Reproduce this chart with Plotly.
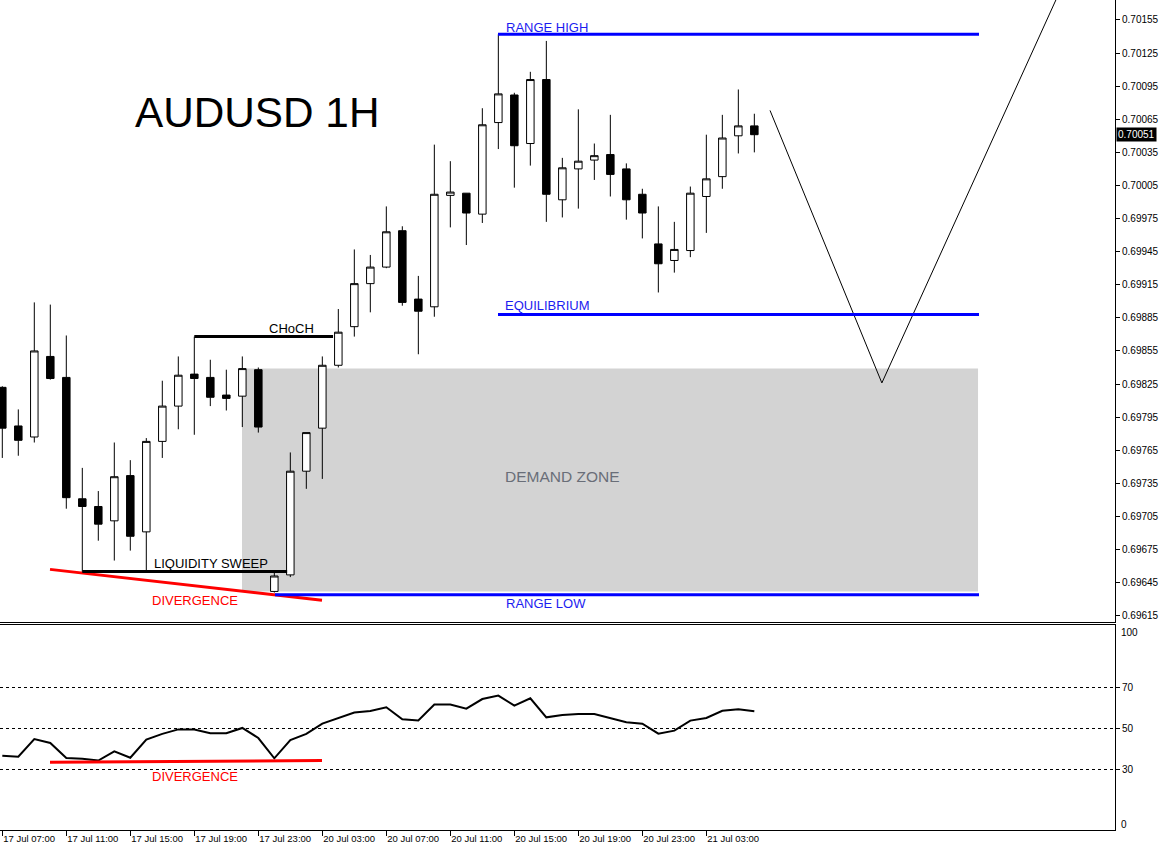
import plotly.graph_objects as go

# ---------------- data ----------------
times = (["17 Jul %02d:00" % h for h in range(7, 24)] +
         ["20 Jul %02d:00" % h for h in range(0, 24)] +
         ["21 Jul %02d:00" % h for h in range(0, 7)])

open_ = [0.69822, 0.69787, 0.69777, 0.69850, 0.69831, 0.69721, 0.69714, 0.69701, 0.69742, 0.69691,
         0.69773, 0.69805, 0.69834, 0.69831, 0.69815, 0.69814, 0.69838, 0.69637, 0.69652, 0.69746,
         0.69785, 0.69842, 0.69877, 0.69916, 0.69931, 0.69964, 0.69902, 0.69895, 0.69996, 0.69998,
         0.69979, 0.70062, 0.70087, 0.70043, 0.70101, 0.69992, 0.70020, 0.70028, 0.70033, 0.70020,
         0.69997, 0.69952, 0.69937, 0.69946, 0.69995, 0.70013, 0.70050, 0.70059]
high = [0.69823, 0.69802, 0.69899, 0.69897, 0.69869, 0.69749, 0.69728, 0.69772, 0.69756, 0.69776,
        0.69828, 0.69850, 0.69868, 0.69847, 0.69838, 0.69850, 0.69840, 0.69654, 0.69763, 0.69781,
        0.69850, 0.69893, 0.69947, 0.69942, 0.69986, 0.69968, 0.69923, 0.70042, 0.70027, 0.69998,
        0.70075, 0.70142, 0.70089, 0.70108, 0.70136, 0.70030, 0.70074, 0.70043, 0.70069, 0.70025,
        0.70002, 0.69986, 0.69972, 0.70004, 0.70051, 0.70069, 0.70092, 0.70070]
low = [0.69758, 0.69760, 0.69772, 0.69829, 0.69712, 0.69654, 0.69683, 0.69665, 0.69674, 0.69656,
       0.69758, 0.69784, 0.69779, 0.69805, 0.69801, 0.69786, 0.69781, 0.69636, 0.69650, 0.69730,
       0.69739, 0.69840, 0.69868, 0.69890, 0.69930, 0.69896, 0.69852, 0.69886, 0.69967, 0.69951,
       0.69971, 0.70038, 0.70003, 0.70023, 0.69972, 0.69976, 0.69984, 0.70010, 0.69995, 0.69974,
       0.69957, 0.69908, 0.69926, 0.69940, 0.69962, 0.70002, 0.70034, 0.70035]
close = [0.69785, 0.69774, 0.69855, 0.69830, 0.69722, 0.69714, 0.69698, 0.69741, 0.69687, 0.69773,
         0.69805, 0.69833, 0.69830, 0.69813, 0.69812, 0.69839, 0.69786, 0.69651, 0.69746, 0.69781,
         0.69842, 0.69872, 0.69916, 0.69931, 0.69963, 0.69899, 0.69891, 0.69997, 0.69999, 0.69980,
         0.70060, 0.70088, 0.70041, 0.70101, 0.69997, 0.70021, 0.70027, 0.70032, 0.70015, 0.69992,
         0.69980, 0.69934, 0.69947, 0.69998, 0.70011, 0.70048, 0.70059, 0.70051]

rsi = [37.0, 36.5, 45.1, 43.2, 35.9, 35.5, 34.6, 39.1, 36.0, 44.8,
       47.6, 49.8, 49.7, 47.9, 47.9, 50.5, 45.6, 35.7, 44.6, 47.6,
       52.6, 55.2, 58.0, 58.8, 60.6, 54.7, 54.2, 61.9, 61.9, 59.9,
       64.6, 66.3, 61.4, 65.0, 55.7, 56.8, 57.3, 57.3, 55.2, 53.3,
       52.6, 47.7, 49.2, 54.1, 55.4, 58.9, 59.6, 58.6]

tick_labels = ["17 Jul 07:00", "17 Jul 11:00", "17 Jul 15:00", "17 Jul 19:00", "17 Jul 23:00",
               "20 Jul 03:00", "20 Jul 07:00", "20 Jul 11:00", "20 Jul 15:00", "20 Jul 19:00",
               "20 Jul 23:00", "21 Jul 03:00"]
price_ticks = [0.69615, 0.69645, 0.69675, 0.69705, 0.69735, 0.69765, 0.69795, 0.69825, 0.69855,
               0.69885, 0.69915, 0.69945, 0.69975, 0.70005, 0.70035, 0.70065, 0.70095, 0.70125, 0.70155]
rsi_ticks = [30, 50, 70]

range_high = 0.70142
equilibrium = 0.69888
range_low = 0.69634
demand_top = 0.69839
demand_bottom = 0.69637
choch_level = 0.69868
sweep_level = 0.69655
last_price = 0.70051

# annotation geometry in bar-index / price units
range_x = [30.98, 61.04]
range_low_x = [17.04, 61.04]
demand_x = [14.98, 60.98]
choch_x = [12.0, 20.67]
sweep_x = [5.0, 17.8]
div_price_x = [2.98, 19.98]
div_price_y = [0.69657, 0.69629]
div_rsi_x = [2.98, 7.23, 15.79, 19.98]
div_rsi_y = [33.8, 34.0, 34.2, 34.6]
proj_x = [47.98, 54.97, 66.5]
proj_y = [0.70073, 0.69826, 0.70194]

x = list(range(len(times)))
tickvals = [times.index(t) for t in tick_labels]

FONT = "Liberation Sans, Arial, sans-serif"
BLUE = "#0000ff"

fig = go.Figure()

fig.add_trace(go.Candlestick(
    x=x, open=open_, high=high, low=low, close=close,
    increasing=dict(line=dict(color="black", width=1), fillcolor="white"),
    decreasing=dict(line=dict(color="black", width=1), fillcolor="black"),
    whiskerwidth=0, xaxis="x", yaxis="y", hoverinfo="skip", showlegend=False))

fig.add_trace(go.Scatter(x=div_price_x, y=div_price_y, mode="lines",
                         line=dict(color="#ff0000", width=3), xaxis="x", yaxis="y",
                         hoverinfo="skip", showlegend=False))
fig.add_trace(go.Scatter(x=proj_x, y=proj_y, mode="lines",
                         line=dict(color="black", width=1), xaxis="x", yaxis="y",
                         hoverinfo="skip", showlegend=False))

fig.add_trace(go.Scatter(x=x, y=rsi, mode="lines", line=dict(color="black", width=2),
                         xaxis="x2", yaxis="y2", hoverinfo="skip", showlegend=False))
fig.add_trace(go.Scatter(x=div_rsi_x, y=div_rsi_y, mode="lines",
                         line=dict(color="#ff0000", width=3), xaxis="x2", yaxis="y2",
                         hoverinfo="skip", showlegend=False))

shapes = [
    dict(type="rect", xref="x", yref="y", x0=demand_x[0], x1=demand_x[1],
         y0=demand_bottom, y1=demand_top, fillcolor="#d3d3d3", line=dict(width=0), layer="below"),
    dict(type="line", xref="x", yref="y", x0=range_x[0], x1=range_x[1],
         y0=range_high, y1=range_high, line=dict(color=BLUE, width=3)),
    dict(type="line", xref="x", yref="y", x0=range_x[0], x1=range_x[1],
         y0=equilibrium, y1=equilibrium, line=dict(color=BLUE, width=3)),
    dict(type="line", xref="x", yref="y", x0=range_low_x[0], x1=range_low_x[1],
         y0=range_low, y1=range_low, line=dict(color=BLUE, width=3)),
    dict(type="line", xref="x", yref="y", x0=choch_x[0], x1=choch_x[1],
         y0=choch_level, y1=choch_level, line=dict(color="black", width=3)),
    dict(type="line", xref="x", yref="y", x0=sweep_x[0], x1=sweep_x[1],
         y0=sweep_level, y1=sweep_level, line=dict(color="black", width=3)),
]

def txt(xv, yv, s, color, size, xanchor="left", xref="x", yref="y", **kw):
    d = dict(x=xv, y=yv, xref=xref, yref=yref, text=s, showarrow=False,
             xanchor=xanchor, yanchor="middle",
             font=dict(family=FONT, size=size, color=color))
    d.update(kw)
    return d

annotations = [
    txt(8.29, 0.70071, "AUDUSD 1H", "black", 42.3, xshift=-2),
    txt(31.48, 0.701486, "RANGE HIGH", "#1c1cf0", 13, xshift=-2),
    txt(31.42, 0.698958, "EQUILIBRIUM", "#1c1cf0", 13, xshift=-2),
    txt(31.48, 0.696257, "RANGE LOW", "#1c1cf0", 13, xshift=-2),
    txt(16.67, 0.69875, "CHoCH", "black", 13, xshift=-2),
    txt(9.48, 0.69662, "LIQUIDITY SWEEP", "black", 13, xshift=-2),
    txt(9.36, 0.696284, "DIVERGENCE", "#ff0000", 13, xshift=-2),
    txt(34.98, 0.697408, "DEMAND ZONE", "#696e78", 15.5, xanchor="center"),
    txt(9.36, 26.6, "DIVERGENCE", "#ff0000", 13, xref="x2", yref="y2", xshift=-2),
    txt(1, last_price, "%.5f" % last_price, "white", 10, xref="paper", yref="y",
        bgcolor="black", borderpad=1, xshift=1),
    txt(1, 97.3, "100", "black", 10, xref="paper", yref="y2", xshift=4),
    txt(1, 3.2, "0", "black", 10, xref="paper", yref="y2", xshift=4),
]

xr = [-0.144, 69.54]
ytickfont = dict(family=FONT, size=10, color="black")
xtickfont = dict(family=FONT, size=9.5, color="black")

fig.update_layout(
    width=1160, height=851,
    margin=dict(l=0, r=45, t=0, b=21),
    paper_bgcolor="white", plot_bgcolor="white",
    boxgap=0.33,
    shapes=shapes, annotations=annotations,
    xaxis=dict(domain=[0, 1], anchor="y", range=xr, showline=True, linecolor="black", linewidth=1,
               ticks="", showticklabels=False, showgrid=False, zeroline=False,
               rangeslider=dict(visible=False), fixedrange=True),
    yaxis=dict(domain=[0.2506, 1], anchor="x", side="right", range=[0.696093, 0.701731],
               tickvals=price_ticks, tickformat=".5f", ticks="outside", ticklen=4,
               tickcolor="black", showline=True, linecolor="black", linewidth=1,
               showgrid=False, zeroline=False, tickfont=ytickfont, automargin=False),
    xaxis2=dict(domain=[0, 1], anchor="y2", matches="x", range=xr, showline=True, mirror=True,
                linecolor="black", linewidth=1, ticks="outside", ticklen=5, tickcolor="black",
                tickvals=tickvals, ticktext=tick_labels, ticklabelposition="outside right",
                tickangle=0, showgrid=False, zeroline=False, tickfont=xtickfont,
                automargin=False),
    yaxis2=dict(domain=[0, 0.2470], anchor="x2", side="right", range=[0.73, 100.73],
                tickvals=rsi_ticks, ticks="outside", ticklen=4, tickcolor="black",
                showline=True, linecolor="black", linewidth=1,
                showgrid=True, gridcolor="black", gridwidth=1, griddash="dot",
                zeroline=False, tickfont=ytickfont, automargin=False),
)

fig.write_html("out.html")
